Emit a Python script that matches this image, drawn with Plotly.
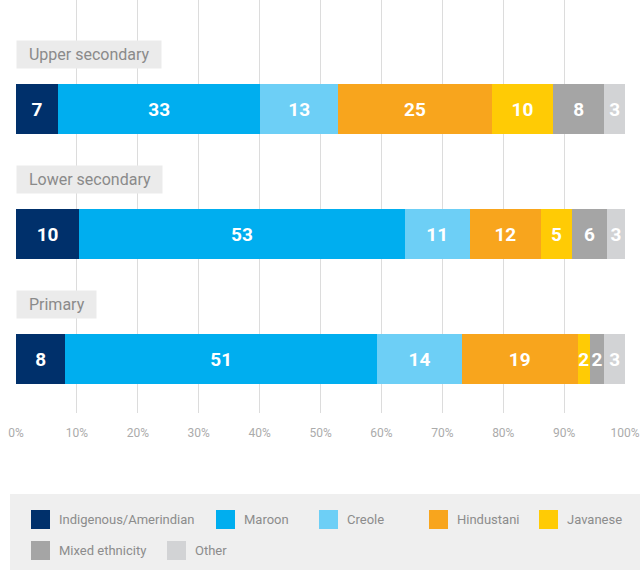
import plotly.graph_objects as go

# ---------------- data ----------------
levels = ["Primary", "Lower secondary", "Upper secondary"]
series_names = ["Indigenous/Amerindian", "Maroon", "Creole", "Hindustani",
                "Javanese", "Mixed ethnicity", "Other"]
indigenous = [8.1, 10.4, 6.9]
maroon = [51.2, 53.4, 33.2]
creole = [13.9, 10.7, 12.8]
hindustani = [19.0, 11.7, 25.2]
javanese = [2.0, 5.1, 10.1]
mixed = [2.4, 5.7, 8.4]
other = [3.4, 3.0, 3.4]
x_ticks = [0, 10, 20, 30, 40, 50, 60, 70, 80, 90, 100]
x_tick_labels = ["0%", "10%", "20%", "30%", "40%", "50%", "60%", "70%",
                 "80%", "90%", "100%"]

series_values = [indigenous, maroon, creole, hindustani, javanese, mixed, other]
colors = ["#00306b", "#00aeef", "#6dcff6", "#f8a51d", "#ffcb05", "#a5a5a5", "#d2d3d5"]

# ---------------- layout geometry ----------------
FW, FH = 640, 570
L, R, T, B = 16, 14, 0, 157
PW, PH = FW - L - R, FH - T - B
FONT = "Roboto, Liberation Sans, sans-serif"


def px_x(p):
    return (p - L) / PW


def px_y(p):
    return (T + PH - p) / PH


fig = go.Figure()
for name, vals, col in zip(series_names, series_values, colors):
    fig.add_trace(go.Bar(
        y=levels, x=vals, name=name, orientation="h",
        marker=dict(color=col, line=dict(width=0)),
        texttemplate="%{x:.0f}", textposition="inside",
        insidetextanchor="middle", textangle=0, constraintext="none",
        textfont=dict(color="white", size=19, family=FONT, weight="bold"),
        showlegend=False, hoverinfo="skip",
    ))

shapes = []
annotations = []

# category label boxes
for lv in levels:
    annotations.append(dict(
        x=0, xref="x", y=lv, yref="y", xanchor="left", yanchor="bottom",
        yshift=40, showarrow=False,
        text="\u00a0\u00a0" + lv + "\u00a0\u00a0",
        font=dict(size=16, color="#8a8a8a", family=FONT),
        bgcolor="#ebebeb", borderpad=4,
    ))

# manual legend
shapes.append(dict(type="rect", xref="paper", yref="paper",
                   x0=px_x(10), x1=px_x(640), y0=px_y(570), y1=px_y(494),
                   fillcolor="#efefef", line=dict(width=0), layer="below"))
legend_pos = [(31, 519.5), (216, 519.5), (319, 519.5), (429, 519.5), (539, 519.5),
              (31, 550.5), (167, 550.5)]
for name, col, (sx, sy) in zip(series_names, colors, legend_pos):
    shapes.append(dict(type="rect", xref="paper", yref="paper",
                       x0=px_x(sx), x1=px_x(sx + 19),
                       y0=px_y(sy + 9.5), y1=px_y(sy - 9.5),
                       fillcolor=col, line=dict(width=0)))
    annotations.append(dict(
        x=px_x(sx + 26), xref="paper", y=px_y(sy), yref="paper",
        xanchor="left", yanchor="middle", showarrow=False, text=name,
        font=dict(size=13, color="#8c8c8c", family=FONT),
    ))

fig.update_layout(
    width=FW, height=FH,
    margin=dict(l=L, r=R, t=T, b=B, pad=0),
    barmode="stack", bargap=0.6,
    plot_bgcolor="white", paper_bgcolor="white",
    uniformtext=dict(minsize=19, mode="show"),
    shapes=shapes, annotations=annotations,
    xaxis=dict(
        range=[0, 100.15], tickmode="array", tickvals=x_ticks, ticktext=x_tick_labels,
        showgrid=True, gridcolor="#dcdcdc", gridwidth=1, zeroline=False,
        showline=False, ticks="", ticklabelstandoff=11,
        ticklabeloverflow="allow",
        tickfont=dict(size=12, color="#ababab", family=FONT),
        fixedrange=True,
    ),
    yaxis=dict(
        categoryorder="array", categoryarray=levels,
        range=[-0.432, 2.872], showticklabels=False, showgrid=False,
        zeroline=False, showline=False, ticks="", fixedrange=True,
    ),
)

fig.write_html(
    "out.html",
    config={"displayModeBar": False},
    post_script="document.body.style.margin='0';document.body.style.overflow='hidden';",
)
